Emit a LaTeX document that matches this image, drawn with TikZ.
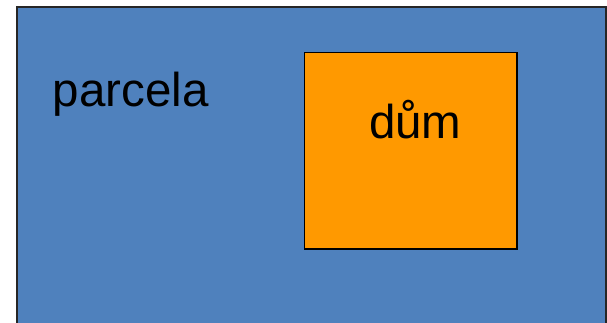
\documentclass[tikz,border=0pt]{standalone}
\usepackage{fontspec}
\setmainfont{Liberation Sans}
\definecolor{plotblue}{HTML}{4F81BD}
\definecolor{houseorange}{HTML}{FF9900}
\tikzset{
  plotbox/.style={fill=plotblue, draw=black!85, line width=1.8pt},
  housebox/.style={fill=houseorange, draw=black, line width=1.5pt},
  bigtext/.style={inner sep=0pt, font=\fontsize{47.5}{51}\selectfont, text=black}
}
\begin{document}
\begin{tikzpicture}[x=1pt,y=1pt]
\useasboundingbox (0,0) rectangle (607,323);
\begin{scope}
\clip (0,0) rectangle (607,323);
\path[plotbox] (17,-10) rectangle (606,316);
\end{scope}
\path[housebox] (304.7,74) rectangle (517,270.7);
\node[bigtext, anchor=base west] (parcela) at (52.5,216.3) {parcela};
\node[bigtext, anchor=base] (dum) at (415.3,184) {dům};
\end{tikzpicture}
\end{document}
